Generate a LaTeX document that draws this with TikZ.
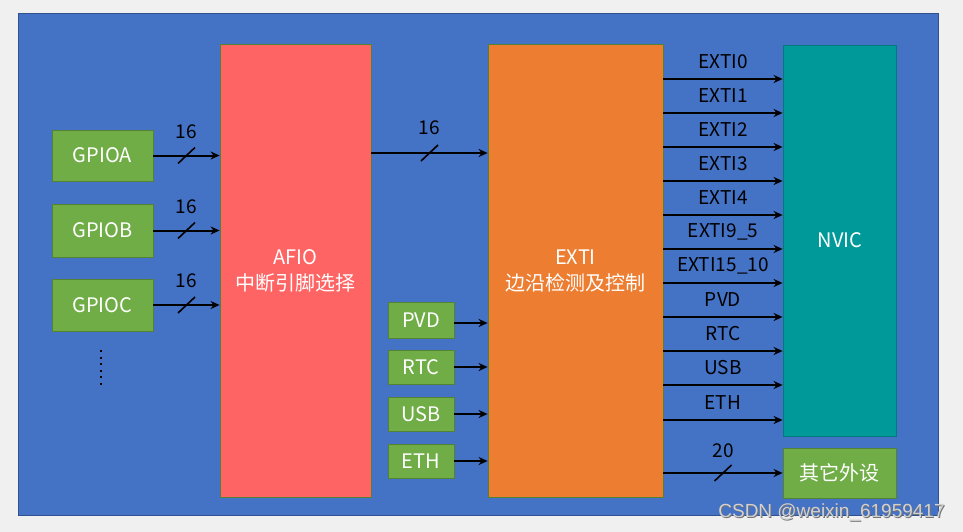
\documentclass[tikz,border=0pt]{standalone}
\usepackage{fontspec}
\setmainfont{Noto Sans CJK SC}
\newfontfamily\markfont{Liberation Sans}
\usetikzlibrary{calc,arrows.meta}
\definecolor{pagegray}{HTML}{F0F0F0}
\definecolor{panelblue}{HTML}{4472C4}
\definecolor{paneledge}{HTML}{2F528F}
\definecolor{afiored}{HTML}{FF6464}
\definecolor{extiorange}{HTML}{ED7D31}
\definecolor{nvicteal}{HTML}{009999}
\definecolor{srcgreen}{HTML}{70AD47}
\definecolor{srcedge}{HTML}{548235}
\tikzset{
  blk/.style={draw=srcedge, line width=0.8pt, inner sep=0pt, text=white,
              font=\fontsize{20}{26}\selectfont, align=center},
  srcbox/.style={blk, fill=srcgreen},
  sig/.style={line width=2pt, -{Stealth[length=9pt,width=8pt]}},
  slashmark/.style={line width=1.6pt},
  lbl/.style={font=\fontsize{19}{22}\selectfont, text=black, inner sep=0pt},
}
\begin{document}
\begin{tikzpicture}[x=1pt,y=-1pt]
  % page and panel
  \fill[pagegray] (0,0) rectangle (963,532);
  \useasboundingbox (0,0) rectangle (963,532);
  \filldraw[fill=panelblue, draw=paneledge, line width=0.8pt] (18,13) rectangle (938,515);

  % main blocks
  \node[blk, fill=afiored, minimum width=151pt, minimum height=453pt] (afio) at (295.5,270.5) {AFIO\\中断引脚选择};
  \node[blk, fill=extiorange, minimum width=175pt, minimum height=453pt] (exti) at (575.5,270.5) {EXTI\\边沿检测及控制};
  \node[blk, fill=nvicteal, draw=nvicteal!80!black, minimum width=113pt, minimum height=391pt] (nvic) at (839.5,240.5) {};
  \node[text=white, font=\fontsize{20}{24}\selectfont, inner sep=0pt] (nvictext) at (840,240) {NVIC};
  \node[srcbox, minimum width=113pt, minimum height=50pt] (other) at (839.5,473) {其它外设};

  % GPIO ports
  \node[srcbox, minimum width=101pt, minimum height=51pt] (gpioa) at (102.5,155.5) {GPIOA};
  \node[srcbox, minimum width=101pt, minimum height=53pt] (gpiob) at (102.5,230.5) {GPIOB};
  \node[srcbox, minimum width=101pt, minimum height=52pt] (gpioc) at (102.5,305) {GPIOC};
  \draw[line width=2pt, dash pattern=on 2pt off 4.6pt] (101,350) -- (101,388);

  % 16-bit buses into AFIO and EXTI
  \foreach \src/\n in {gpioa/a, gpiob/b, gpioc/c}{
    \draw[sig] (\src.east) -- (afio.west |- \src.east) coordinate[midway] (bus\n);
    \draw[slashmark] ($(bus\n)+(-8.5,8)$) -- ($(bus\n)+(8.5,-8)$);
    \node[lbl] (w\n) at ($(bus\n)+(0,-24)$) {16};
  }
  \coordinate (ybus) at (0,153);
  \draw[sig] (afio.east |- ybus) -- (exti.west |- ybus) coordinate[midway] (busm);
  \draw[slashmark] ($(busm)+(-8.5,8)$) -- ($(busm)+(8.5,-8)$);
  \node[lbl] (wm) at ($(busm)+(0,-25)$) {16};

  % internal line sources
  \node[srcbox, minimum width=66pt, minimum height=36pt] (pvd) at (421,320) {PVD};
  \node[srcbox, minimum width=66pt, minimum height=34pt] (rtc) at (421,367) {RTC};
  \node[srcbox, minimum width=66pt, minimum height=34pt] (usb) at (421,414) {USB};
  \node[srcbox, minimum width=66pt, minimum height=34pt] (eth) at (421,461) {ETH};
  \coordinate (ypvd) at (0,323);
  \draw[sig] (pvd.east |- ypvd) -- (exti.west |- ypvd);
  \foreach \src in {rtc, usb, eth}{
    \draw[sig] (\src.east) -- (exti.west |- \src.east);
  }

  % EXTI outputs to NVIC
  \foreach \y/\t [count=\i] in {79/EXTI0, 113/EXTI1, 147/EXTI2, 181/EXTI3, 215/EXTI4,
                   249/EXTI9\_5, 283/EXTI15\_10, 317/PVD, 351/RTC, 385/USB, 420/ETH}{
    \coordinate (yo\i) at (0,\y);
    \draw[sig] (exti.east |- yo\i) -- (nvic.west |- yo\i)
      node[lbl, midway, yshift=17pt] (out\i) {\t};
  }

  % 20-line bus to other peripherals
  \draw[sig] (exti.east |- other.west) -- (other.west) coordinate[midway] (busp);
  \draw[slashmark] ($(busp)+(-8.5,8)$) -- ($(busp)+(8.5,-8)$);
  \node[lbl] (wp) at ($(busp)+(0,-22)$) {20};

  % watermark
  \node[font=\markfont\fontsize{19}{22}\selectfont, text=black!55, inner sep=0pt] (markshade) at (832.5,513) {CSDN @weixin\_61959417};
  \node[font=\markfont\fontsize{19}{22}\selectfont, text=white!82!black, inner sep=0pt] (marktext) at (831.5,512) {CSDN @weixin\_61959417};
\end{tikzpicture}
\end{document}
